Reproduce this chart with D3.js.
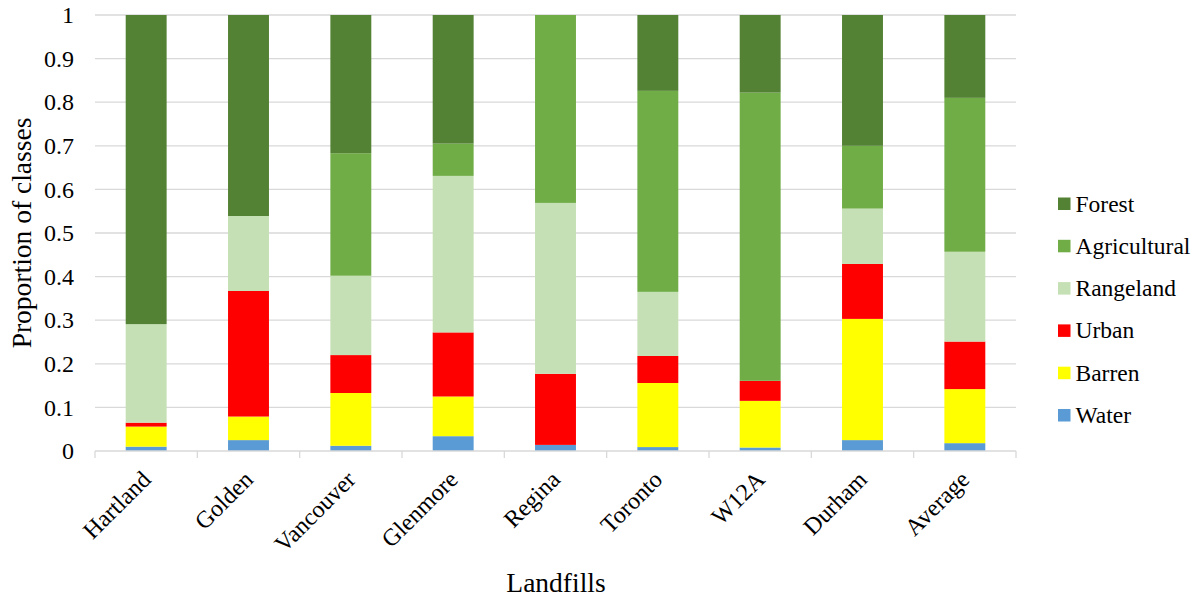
<!DOCTYPE html>
<html>
<head>
<meta charset="utf-8">
<script src="https://cdn.jsdelivr.net/npm/d3@7"></script>
<style>
  html, body { margin: 0; padding: 0; background: #fff; }
  svg { display: block; }
</style>
</head>
<body>
<svg id="chart" width="1198" height="599" font-family="'Liberation Serif', 'Times New Roman', 'DejaVu Serif', serif"></svg>
<script>
// Land-cover class proportions per landfill site
const landfills = ["Hartland", "Golden", "Vancouver", "Glenmore", "Regina", "Toronto", "W12A", "Durham", "Average"];
const classes = ["Water", "Barren", "Urban", "Rangeland", "Agricultural", "Forest"];
const water        = [0.010, 0.025, 0.012, 0.034, 0.014, 0.009, 0.008, 0.025, 0.018];
const barren       = [0.046, 0.054, 0.121, 0.091, 0.000, 0.147, 0.107, 0.278, 0.124];
const urban        = [0.009, 0.288, 0.087, 0.147, 0.163, 0.062, 0.046, 0.126, 0.109];
const rangeland    = [0.226, 0.172, 0.182, 0.359, 0.392, 0.147, 0.000, 0.127, 0.206];
const agricultural = [0.000, 0.000, 0.281, 0.074, 0.431, 0.461, 0.661, 0.144, 0.353];
const forest       = [0.709, 0.461, 0.317, 0.295, 0.000, 0.174, 0.178, 0.300, 0.190];
const yTicks = [0, 0.1, 0.2, 0.3, 0.4, 0.5, 0.6, 0.7, 0.8, 0.9, 1];

const colors = {
  Water: "#5b9bd5",
  Barren: "#ffff00",
  Urban: "#ff0000",
  Rangeland: "#c5e0b4",
  Agricultural: "#70ad47",
  Forest: "#548235"
};

const seriesValues = { Water: water, Barren: barren, Urban: urban, Rangeland: rangeland, Agricultural: agricultural, Forest: forest };
const rows = landfills.map((name, i) => {
  const r = { name };
  classes.forEach(c => { r[c] = seriesValues[c][i]; });
  return r;
});

const svg = d3.select("#chart");
const margin = { left: 95, right: 182, top: 15, bottom: 148 };
const W = 1198, H = 599;

const x = d3.scaleBand().domain(landfills).range([margin.left, W - margin.right]).paddingInner(0.6).paddingOuter(0.3);
const y = d3.scaleLinear().domain([0, 1]).range([H - margin.bottom, margin.top]);

// horizontal gridlines
svg.append("g")
  .selectAll("line")
  .data(yTicks.slice(1))
  .join("line")
  .attr("x1", margin.left).attr("x2", W - margin.right)
  .attr("y1", d => y(d)).attr("y2", d => y(d))
  .attr("stroke", "#d9d9d9").attr("stroke-width", 1.3);

// y tick labels
svg.append("g")
  .selectAll("text")
  .data(yTicks)
  .join("text")
  .attr("x", 74).attr("y", d => y(d))
  .attr("dy", "0.34em")
  .attr("text-anchor", "end")
  .attr("font-size", 24)
  .attr("fill", "#000")
  .text(d => d3.format("~g")(d));

// stacked bars
const stack = d3.stack().keys(classes)(rows);
svg.append("g")
  .selectAll("g")
  .data(stack)
  .join("g")
  .attr("fill", d => colors[d.key])
  .selectAll("rect")
  .data(d => d)
  .join("rect")
  .attr("x", d => x(d.data.name))
  .attr("width", x.bandwidth())
  .attr("y", d => y(d[1]))
  .attr("height", d => Math.max(0, y(d[0]) - y(d[1])));

// category axis with ticks at band boundaries
const x0 = margin.left, x1 = W - margin.right;
const axisG = svg.append("g");
axisG.append("line")
  .attr("x1", x0).attr("x2", x1)
  .attr("y1", y(0)).attr("y2", y(0))
  .attr("stroke", "#d9d9d9").attr("stroke-width", 1.3);
const boundaries = d3.range(landfills.length + 1).map(i => x0 + i * (x1 - x0) / landfills.length);
axisG.selectAll("line.tick")
  .data(boundaries)
  .join("line")
  .attr("class", "tick")
  .attr("x1", d => d).attr("x2", d => d)
  .attr("y1", y(0)).attr("y2", y(0) + 7)
  .attr("stroke", "#d9d9d9").attr("stroke-width", 1.3);

// rotated category labels
axisG.selectAll("text")
  .data(landfills)
  .join("text")
  .attr("transform", d => `translate(${x(d) + x.bandwidth() / 2 + 6},${y(0) + 30}) rotate(-45)`)
  .attr("text-anchor", "end")
  .attr("font-size", 24)
  .attr("fill", "#000")
  .text(d => d);

// axis titles
svg.append("text")
  .attr("transform", `translate(31,233) rotate(-90)`)
  .attr("text-anchor", "middle")
  .attr("font-size", 27.5)
  .attr("fill", "#000")
  .text("Proportion of classes");

svg.append("text")
  .attr("x", 556).attr("y", 592)
  .attr("text-anchor", "middle")
  .attr("font-size", 27.5)
  .attr("fill", "#000")
  .text("Landfills");

// legend, Forest on top
const legendItems = classes.slice().reverse();
const legend = svg.append("g")
  .selectAll("g")
  .data(legendItems)
  .join("g")
  .attr("transform", (d, i) => `translate(1058,${203.5 + i * 42.3})`);
legend.append("rect")
  .attr("x", 0).attr("y", -6).attr("width", 12.5).attr("height", 12.5)
  .attr("fill", d => colors[d]);
legend.append("text")
  .attr("x", 17.5).attr("y", 0).attr("dy", "0.34em")
  .attr("font-size", 23.5)
  .attr("fill", "#000")
  .text(d => d);
</script>
</body>
</html>
